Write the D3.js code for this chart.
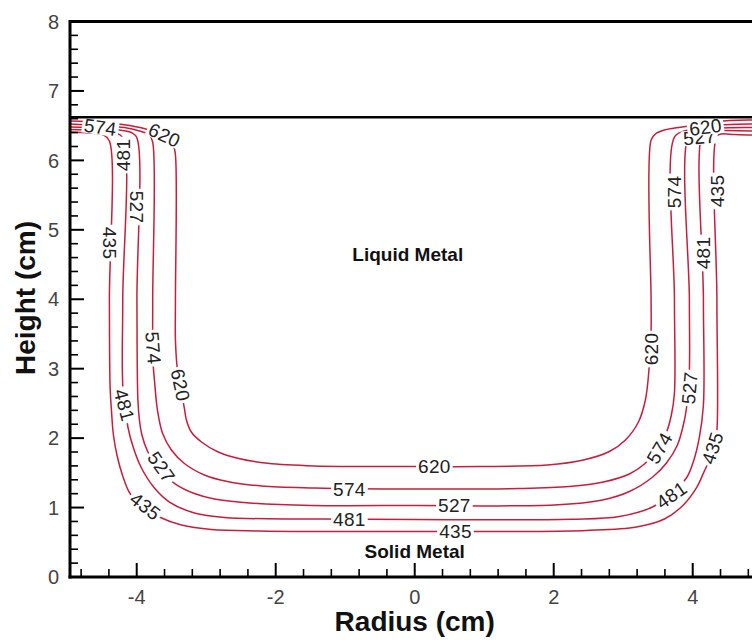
<!DOCTYPE html>
<html><head><meta charset="utf-8">
<script src="https://cdn.jsdelivr.net/npm/d3@7"></script>
<style>
html,body{margin:0;padding:0;background:#fff;}
svg{display:block;}
</style></head>
<body>
<script>
// ---------- data (data units: radius cm, height cm) ----------
const levels = [435, 481, 527, 574, 620];
const interfaceHeight = 6.62;
const xMajorTicks = [-4, -2, 0, 2, 4];
const yMajorTicks = [0, 1, 2, 3, 4, 5, 6, 7, 8];
const xTitle = "Radius (cm)";
const yTitle = "Height (cm)";
const regionLabels = [
  {text: "Liquid Metal", x: -0.10, y: 4.55},
  {text: "Solid Metal", x: 0.0, y: 0.27}
];

const c435 = [[-4.96,6.408],[-4.681,6.394],[-4.479,6.365],[-4.393,6.279],[-4.393,3.989],[-4.383,2.736],[-4.364,2.405],[-4.335,2.045],[-4.278,1.728],[-4.206,1.469],[-4.091,1.195],[-3.875,0.994],[-3.674,0.864],[-3.357,0.749],[-2.925,0.684],[-2.235,0.662],[-1.443,0.655],[0,0.655],[1.506,0.655],[2.470,0.670],[3.190,0.720],[3.593,0.835],[3.866,1.037],[4.053,1.282],[4.168,1.527],[4.240,1.685],[4.312,1.901],[4.348,2.117],[4.348,3.989],[4.348,6.351],[4.413,6.380],[4.600,6.372],[4.845,6.365],[5,6.365]];
const c481 = [[-4.96,6.445],[-4.609,6.430],[-4.321,6.401],[-4.201,6.322],[-4.201,3.989],[-4.199,2.736],[-4.127,2.160],[-4.047,1.858],[-3.932,1.570],[-3.745,1.282],[-3.529,1.080],[-3.170,0.922],[-2.738,0.857],[-1.486,0.835],[0,0.828],[2.255,0.831],[2.945,0.871],[3.420,1.008],[3.665,1.181],[3.909,1.426],[4.003,1.642],[4.096,2.016],[4.154,2.477],[4.154,3.989],[4.154,6.423],[4.269,6.437],[4.456,6.430],[4.845,6.423],[5,6.423]];
const c527 = [[-4.96,6.480],[-4.537,6.466],[-4.249,6.437],[-4.076,6.401],[-3.997,6.322],[-3.997,3.989],[-3.983,2.549],[-3.961,2.261],[-3.925,2.045],[-3.846,1.815],[-3.673,1.541],[-3.443,1.339],[-3.170,1.202],[-2.882,1.123],[-2.378,1.066],[-1.486,1.030],[0,1.030],[2.010,1.037],[2.701,1.109],[3.089,1.231],[3.424,1.440],[3.622,1.642],[3.780,1.901],[3.881,2.261],[3.924,2.549],[3.952,2.981],[3.952,3.989],[3.952,6.394],[4.097,6.437],[4.384,6.466],[4.845,6.473],[5,6.473]];
const c574 = [[-4.96,6.524],[-4.537,6.502],[-4.177,6.473],[-3.961,6.423],[-3.817,6.365],[-3.770,6.264],[-3.770,3.989],[-3.767,3.125],[-3.745,2.837],[-3.702,2.405],[-3.630,2.074],[-3.501,1.829],[-3.314,1.635],[-3.026,1.469],[-2.695,1.375],[-2.206,1.310],[-1.443,1.282],[0,1.267],[1.506,1.274],[2.226,1.303],[2.715,1.368],[3.089,1.483],[3.305,1.627],[3.463,1.800],[3.607,2.045],[3.693,2.333],[3.737,2.650],[3.737,3.989],[3.737,6.336],[3.881,6.423],[4.097,6.466],[4.384,6.509],[4.845,6.524],[5,6.524]];
const c620 = [[-4.96,6.567],[-4.537,6.553],[-4.105,6.502],[-3.817,6.437],[-3.601,6.336],[-3.472,6.207],[-3.443,6.077],[-3.443,3.989],[-3.443,3.413],[-3.414,2.981],[-3.357,2.664],[-3.314,2.429],[-3.285,2.261],[-3.217,2.092],[-3.073,1.948],[-2.835,1.804],[-2.547,1.709],[-2.115,1.637],[-1.443,1.599],[0,1.591],[0.931,1.591],[1.909,1.613],[2.427,1.685],[2.801,1.807],[3.032,1.973],[3.219,2.232],[3.319,2.549],[3.370,2.981],[3.401,3.557],[3.401,3.989],[3.401,6.293],[3.463,6.380],[3.592,6.437],[3.952,6.495],[4.355,6.560],[4.845,6.581],[5,6.581]];
const contours = [c435, c481, c527, c574, c620];

// contour labels: value, position (data units), rotation (deg)
const labelValues = [574, 620, 481, 527, 435, 574, 620, 481, 527, 435, 620, 574, 527, 481, 435, 620, 574, 435, 481, 527, 574, 435, 481, 527, 620];
const labelX = [-4.523, -3.601, -4.191, -3.997, -4.393, -3.760, -3.370, -4.177, -3.645, -3.875, 0.283, -0.94, 0.571, -0.94, 0.586, 3.401, 3.737, 4.348, 4.154, 3.952, 3.521, 4.283, 3.693, 4.097, 4.183];
const labelY = [6.480, 6.365, 6.077, 5.328, 4.810, 3.298, 2.765, 2.477, 1.584, 1.022, 1.591, 1.267, 1.030, 0.828, 0.655, 3.283, 5.544, 5.559, 4.666, 2.722, 1.858, 1.858, 1.181, 6.336, 6.480];
const labelAngle = [8, 25, -90, 90, 90, 85, 78, 75, 55, 38, 0, 0, 0, 0, 0, -90, -90, -90, -90, -85, -60, -72, -35, -5, -8];

// ---------- drawing ----------
const W = 752, H = 642;
const svg = d3.select("body").append("svg").attr("width", W).attr("height", H)
  .style("font-family", "'Liberation Sans', Arial, sans-serif");
svg.append("rect").attr("width", W).attr("height", H).attr("fill", "#fff");

const x = d3.scaleLinear().domain([-4.96, 5]).range([70, 70 + 9.96 * 69.5]);
const y = d3.scaleLinear().domain([0, 8]).range([577, 21.5]);

const line = d3.line().x(d => x(d[0])).y(d => y(d[1])).curve(d3.curveCatmullRom.alpha(0.5));

const gC = svg.append("g");
gC.selectAll("path").data(contours).join("path")
  .attr("d", line).attr("fill", "none").attr("stroke", "#c81e3c").attr("stroke-width", 1.5);

// labels
const labels = labelValues.map((v, i) => ({v, x: labelX[i], y: labelY[i], a: labelAngle[i]}));
const gL = svg.append("g");
labels.forEach(d => {
  const g = gL.append("g").attr("transform", `translate(${x(d.x)},${y(d.y)}) rotate(${d.a})`);
  const r = g.append("rect").attr("fill", "#fff");
  const t = g.append("text").text(d.v).attr("text-anchor", "middle").attr("dy", "0.36em")
    .attr("font-size", 19).attr("fill", "#222").attr("letter-spacing", 0.3);
  const bb = t.node().getBBox();
  r.attr("x", bb.x - 2).attr("y", bb.y + 3).attr("width", bb.width + 4).attr("height", bb.height - 6);
});

// interface line
svg.append("line").attr("x1", x(-4.96)).attr("x2", W).attr("y1", y(interfaceHeight)).attr("y2", y(interfaceHeight))
  .attr("stroke", "#000").attr("stroke-width", 2.5);

// frame
const gA = svg.append("g").attr("stroke", "#000");
gA.append("line").attr("x1", x(-4.96)).attr("x2", W).attr("y1", y(8)).attr("y2", y(8)).attr("stroke-width", 3);
gA.append("line").attr("x1", x(-4.96)).attr("x2", x(-4.96)).attr("y1", y(8) - 1.5).attr("y2", y(0) + 1.5).attr("stroke-width", 3);
gA.append("line").attr("x1", x(-4.96) - 1.5).attr("x2", W).attr("y1", y(0)).attr("y2", y(0)).attr("stroke-width", 3);

// ticks
const xMinor = d3.range(-24, 25).map(i => +(i * 0.2).toFixed(2)).filter(v => Math.abs(Math.round(v / 0.4) * 0.4 - v) < 1e-6 && !xMajorTicks.includes(v));
const yMinor = d3.range(1, 40).map(i => +(i * 0.2).toFixed(2)).filter(v => !yMajorTicks.includes(v));
gA.selectAll(".xM").data(xMajorTicks).join("line").attr("x1", d => x(d)).attr("x2", d => x(d))
  .attr("y1", y(0)).attr("y2", y(0) - 14).attr("stroke-width", 2);
gA.selectAll(".xm").data(xMinor).join("line").attr("class", "xm").attr("x1", d => x(d)).attr("x2", d => x(d))
  .attr("y1", y(0)).attr("y2", y(0) - 8).attr("stroke-width", 1.6);
gA.selectAll(".yM").data(yMajorTicks).join("line").attr("class", "yM").attr("y1", d => y(d)).attr("y2", d => y(d))
  .attr("x1", x(-4.96)).attr("x2", x(-4.96) + 14).attr("stroke-width", 2);
gA.selectAll(".ym").data(yMinor).join("line").attr("class", "ym").attr("y1", d => y(d)).attr("y2", d => y(d))
  .attr("x1", x(-4.96)).attr("x2", x(-4.96) + 8).attr("stroke-width", 1.6);

// tick labels
svg.append("g").selectAll("text").data(xMajorTicks).join("text")
  .attr("x", d => x(d)).attr("y", 604).attr("text-anchor", "middle")
  .attr("font-size", 20).attr("fill", "#444").text(d => d);
svg.append("g").selectAll("text").data(yMajorTicks).join("text")
  .attr("x", 59).attr("y", d => y(d)).attr("dy", "0.36em").attr("text-anchor", "end")
  .attr("font-size", 20).attr("fill", "#444").text(d => d);

// titles
svg.append("text").attr("x", x(0)).attr("y", 631).attr("text-anchor", "middle")
  .attr("font-size", 28).attr("font-weight", "bold").attr("fill", "#111").text(xTitle);
svg.append("text").attr("transform", `translate(35,298) rotate(-90)`).attr("text-anchor", "middle")
  .attr("font-size", 28).attr("font-weight", "bold").attr("fill", "#111").text(yTitle);

// region labels
svg.append("g").selectAll("text").data(regionLabels).join("text")
  .attr("x", d => x(d.x)).attr("y", d => y(d.y)).attr("text-anchor", "middle")
  .attr("font-size", 19).attr("font-weight", "bold").attr("fill", "#111").text(d => d.text);
</script>
</body></html>
